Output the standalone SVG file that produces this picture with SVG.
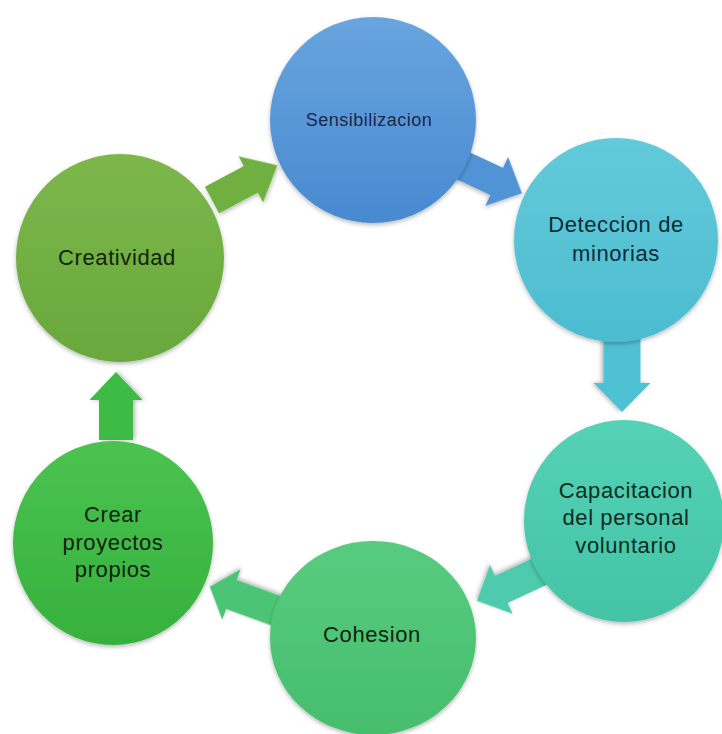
<svg xmlns="http://www.w3.org/2000/svg" width="722" height="734" viewBox="0 0 722 734">
<defs>
<filter id="sh" x="-10%" y="-10%" width="120%" height="125%">
<feDropShadow dx="0" dy="2" stdDeviation="2" flood-color="#000" flood-opacity="0.28"/>
</filter>
<linearGradient id="gBlue" x1="0" y1="0" x2="0" y2="1"><stop offset="0" stop-color="#68a5de"/><stop offset="1" stop-color="#4889d0"/></linearGradient>
<linearGradient id="gCyan" x1="0" y1="0" x2="0" y2="1"><stop offset="0" stop-color="#63cada"/><stop offset="1" stop-color="#4cbcd0"/></linearGradient>
<linearGradient id="gTeal" x1="0" y1="0" x2="0" y2="1"><stop offset="0" stop-color="#55d2b6"/><stop offset="1" stop-color="#44c3a6"/></linearGradient>
<linearGradient id="gMint" x1="0" y1="0" x2="0" y2="1"><stop offset="0" stop-color="#58cb80"/><stop offset="1" stop-color="#46be6c"/></linearGradient>
<linearGradient id="gGreen" x1="0" y1="0" x2="0" y2="1"><stop offset="0" stop-color="#4ac350"/><stop offset="1" stop-color="#36b03d"/></linearGradient>
<linearGradient id="gLime" x1="0" y1="0" x2="0" y2="1"><stop offset="0" stop-color="#7cb74a"/><stop offset="1" stop-color="#69a83c"/></linearGradient>
</defs>
<style>
.lbl{font-family:"Liberation Sans",Arial,sans-serif;font-size:22px;letter-spacing:0.6px;text-anchor:middle;fill:#10240f}
.arr{filter:url(#sh)}
.node{filter:url(#sh)}
</style>
<rect width="722" height="734" fill="#ffffff"/>
<g id="connectors">
<polygon class="arr" fill="#6fb03f" transform="translate(212,200) rotate(-28)" points="0,-15 44,-15 44,-26 74,0 44,26 44,15 0,15"/>
<polygon class="arr" fill="#5194d6" transform="translate(455,162) rotate(25)" points="0,-15 46,-15 46,-27 74,0 46,27 46,15 0,15"/>
<polygon class="arr" fill="#4fc1d5" transform="translate(622,335) rotate(90)" points="0,-18.5 48,-18.5 48,-28.5 77,0 48,28.5 48,18.5 0,18.5"/>
<polygon class="arr" fill="#4ecbac" transform="translate(543,570) rotate(155)" points="0,-15 46,-15 46,-27 73,0 46,27 46,15 0,15"/>
<polygon class="arr" fill="#4cc475" transform="translate(285,614) rotate(200)" points="0,-15.5 57,-15.5 57,-27 80,0 57,27 57,15.5 0,15.5"/>
<polygon class="arr" fill="#3dbb44" transform="translate(116,440) rotate(-90)" points="0,-17 40,-17 40,-26.5 68,0 40,26.5 40,17 0,17"/>
</g>
<g id="sensibilizacion">
<ellipse class="node" cx="373" cy="120" rx="103" ry="103" fill="url(#gBlue)"/>
<text class="lbl" x="369" y="126" style="font-size:18px;letter-spacing:0.5px;fill:#1a2848">Sensibilizacion</text>
</g>
<g id="deteccion">
<ellipse class="node" cx="616" cy="240" rx="102" ry="102" fill="url(#gCyan)"/>
<text class="lbl" x="616" y="232" style="fill:#0e2c36">Deteccion de</text>
<text class="lbl" x="616" y="261" style="fill:#0e2c36">minorias</text>
</g>
<g id="capacitacion">
<ellipse class="node" cx="624" cy="521" rx="100" ry="101" fill="url(#gTeal)"/>
<text class="lbl" x="626" y="498" style="fill:#0e2c24">Capacitacion</text>
<text class="lbl" x="626" y="525" style="fill:#0e2c24">del personal</text>
<text class="lbl" x="626" y="553" style="fill:#0e2c24">voluntario</text>
</g>
<g id="cohesion">
<ellipse class="node" cx="373" cy="638" rx="103" ry="97" fill="url(#gMint)"/>
<text class="lbl" x="372" y="642">Cohesion</text>
</g>
<g id="crear-proyectos">
<ellipse class="node" cx="113" cy="543" rx="100" ry="102" fill="url(#gGreen)"/>
<text class="lbl" x="113" y="522">Crear</text>
<text class="lbl" x="113" y="550">proyectos</text>
<text class="lbl" x="113" y="577">propios</text>
</g>
<g id="creatividad">
<ellipse class="node" cx="120" cy="258" rx="104" ry="104" fill="url(#gLime)"/>
<text class="lbl" x="117" y="265">Creatividad</text>
</g>
</svg>
